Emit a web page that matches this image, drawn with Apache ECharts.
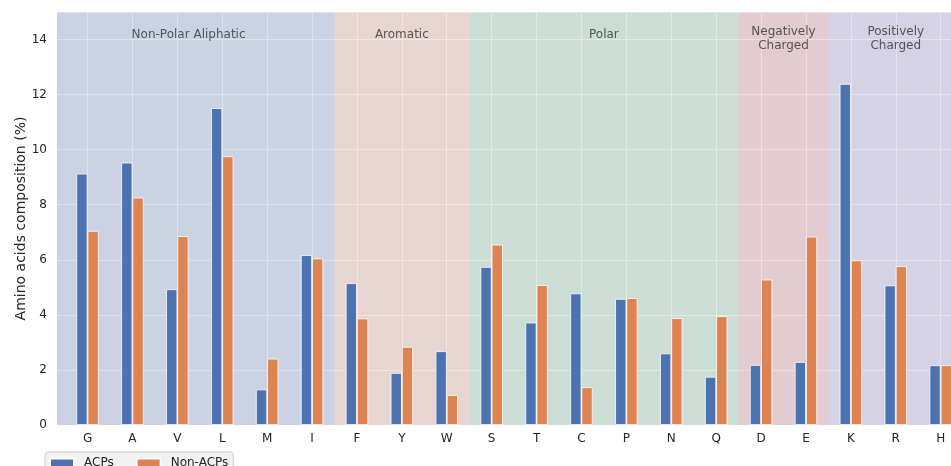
<!DOCTYPE html>
<html>
<head>
<meta charset="utf-8">
<script src="https://cdn.jsdelivr.net/npm/echarts@6/dist/echarts.min.js"></script>
<style>html,body{margin:0;padding:0;background:#fff}#c{width:951px;height:466px}</style>
</head>
<body>
<div id="c"></div>
<script>
const categories = ['G','A','V','L','M','I','F','Y','W','S','T','C','P','N','Q','D','E','K','R','H'];
const acps    = [9.13, 9.53, 4.93, 11.51, 1.29, 6.17, 5.15, 1.89, 2.68, 5.74, 3.72, 4.78, 4.58, 2.60, 1.75, 2.18, 2.29, 12.39, 5.07, 2.17];
const nonAcps = [7.05, 8.26, 6.86, 9.76, 2.41, 6.05, 3.87, 2.84, 1.09, 6.55, 5.08, 1.37, 4.61, 3.88, 3.95, 5.28, 6.84, 5.98, 5.77, 2.17];
const groupNames  = ['Non-Polar Aliphatic', 'Aromatic', 'Polar', 'Negatively\nCharged', 'Positively\nCharged'];
const groupStart  = [-1, 5.5, 8.5, 14.5, 16.5];
const groupEnd    = [5.5, 8.5, 14.5, 16.5, 19.5];
const groupColors = ['rgba(76,114,176,0.2)','rgba(221,132,82,0.2)','rgba(85,168,104,0.2)','rgba(196,78,82,0.2)','rgba(129,114,179,0.2)'];
const yTicks = [0,2,4,6,8,10,12,14];

const XMIN = -0.68, XMAX = 19.23, YMAX = 15;
const font = 'DejaVu Sans';
const txt = '#262626';

const chart = echarts.init(document.getElementById('c'), null, {renderer:'canvas'});

const shadeData = groupNames.map((n, i) => [
  {xAxis: Math.max(groupStart[i], XMIN), yAxis: 0, itemStyle: {color: groupColors[i]}, label: {show: false}},
  {xAxis: Math.min(groupEnd[i], XMAX), yAxis: YMAX}
]);
const labelPoints = groupNames.map((n, i) => ({
  name: n, value: [(groupStart[i] + groupEnd[i]) / 2, YMAX],
  label: {distance: n.indexOf('\n') >= 0 ? 13 : 16}
}));

chart.setOption({
  animation: false,
  textStyle: {fontFamily: font},
  grid: {left: 57, top: 12, right: 0, bottom: 41, show: true, backgroundColor: '#EAEAF2', borderWidth: 0},
  xAxis: {
    type: 'value', min: XMIN, max: XMAX,
    axisLine: {show: false}, axisTick: {show: false}, splitLine: {show: false},
    axisLabel: {customValues: categories.map((c, i) => i), formatter: v => categories[Math.round(v)],
      color: txt, fontFamily: font, fontSize: 12, margin: 8}
  },
  yAxis: {
    type: 'value', min: 0, max: YMAX, interval: 2,
    name: 'Amino acids composition (%)', nameLocation: 'middle', nameGap: 29, nameMoveOverlap: false,
    nameTextStyle: {color: txt, fontFamily: font, fontSize: 14},
    axisLine: {show: false}, axisTick: {show: false},
    axisLabel: {color: txt, fontFamily: font, fontSize: 12, margin: 10, showMaxLabel: false,
      formatter: v => yTicks.indexOf(v) >= 0 ? String(v) : ''},
    splitLine: {lineStyle: {color: '#fff', width: 1}}
  },
  legend: {
    left: 45, top: 452, itemWidth: 24, itemHeight: 9, itemGap: 22, icon: 'rect',
    padding: [5, 5, 5, 4], backgroundColor: 'rgba(240,240,245,0.9)', borderColor: '#cccccc', borderWidth: 1, borderRadius: 3,
    textStyle: {color: txt, fontFamily: font, fontSize: 12, padding: [0, 0, 0, 5]},
    data: ['ACPs', 'Non-ACPs']
  },
  series: [
    {
      name: 'grid', type: 'line', data: [], silent: true, z: 0,
      markLine: {silent: true, symbol: 'none', z: 0.5, label: {show: false},
        lineStyle: {color: '#fff', width: 1, type: 'solid'},
        data: categories.map((c, i) => ({xAxis: i}))},
      markArea: {silent: true, z: 1, data: shadeData}
    },
    {
      name: 'groups', type: 'scatter', symbolSize: 0, silent: true, z: 3, clip: false,
      label: {show: true, position: 'bottom', formatter: p => p.name, color: '#333',
        fontFamily: font, fontSize: 12, lineHeight: 14, align: 'center'},
      data: labelPoints
    },
    {
      name: 'ACPs', type: 'bar', barWidth: 11.2, barGap: 0, z: 2,
      itemStyle: {color: '#4C72B0', borderColor: '#fff', borderWidth: 0.8},
      data: acps.map((v, i) => [i, v])
    },
    {
      name: 'Non-ACPs', type: 'bar', barWidth: 11.2, barGap: 0, z: 2,
      itemStyle: {color: '#DD8452', borderColor: '#fff', borderWidth: 0.8},
      data: nonAcps.map((v, i) => [i, v])
    }
  ]
});
</script>
</body>
</html>
